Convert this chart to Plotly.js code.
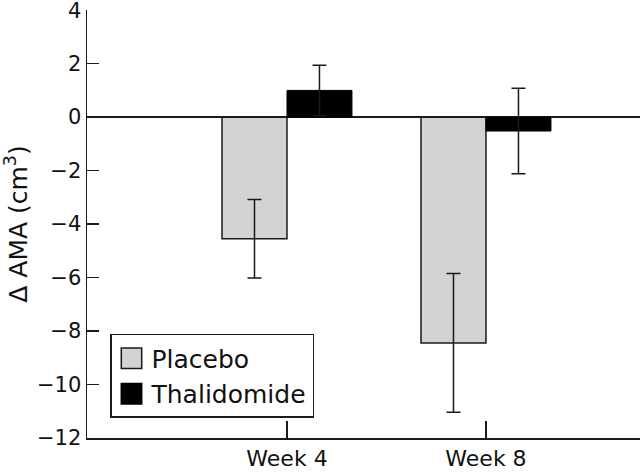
<!DOCTYPE html>
<html>
<head>
<meta charset="utf-8">
<script src="https://cdn.plot.ly/plotly-3.0.1.min.js"></script>
<style>html,body{margin:0;padding:0;background:#fff;}#chart{width:640px;height:472px;}</style>
</head>
<body>
<div id="chart"></div>
<script>
var categories = ["Week 4", "Week 8"];
var placeboValues = [-4.55, -8.45];
var placeboErrors = [1.47, 2.6];
var thalidomideValues = [1.0, -0.52];
var thalidomideErrors = [0.94, 1.6];
var yTickValues = [-12, -10, -8, -6, -4, -2, 0, 2, 4];
var yTickLabels = ["\u221212", "\u221210", "\u22128", "\u22126", "\u22124", "\u22122", "0", "2", "4"];

var ink = "#1a1a1a";
var font = "DejaVu Sans";

var traces = [
  {
    type: "bar", name: "Placebo", x: categories, y: placeboValues,
    marker: {color: "#d3d3d3", line: {color: ink, width: 1.5}},
    error_y: {type: "data", array: placeboErrors, visible: true, color: ink, thickness: 1.5, width: 7}
  },
  {
    type: "bar", name: "Thalidomide", x: categories, y: thalidomideValues,
    marker: {color: "#000000", line: {color: "#000000", width: 1}},
    error_y: {type: "data", array: thalidomideErrors, visible: true, color: ink, thickness: 1.5, width: 7}
  }
];

var layout = {
  width: 640, height: 472,
  margin: {l: 87, r: 0, t: 10, b: 34, autoexpand: false},
  paper_bgcolor: "#fff", plot_bgcolor: "#fff",
  font: {family: font, color: "#111", size: 21},
  barmode: "group", bargap: 0.347, bargroupgap: 0,
  showlegend: true,
  legend: {
    x: 0.0416, y: 0.243, xanchor: "left", yanchor: "top",
    bordercolor: ink, borderwidth: 1.5, bgcolor: "#fff",
    font: {family: font, size: 25, color: "#111"},
    tracegroupgap: 0, itemwidth: 30
  },
  xaxis: {
    type: "category", range: [-1.005, 1.774],
    showline: true, linecolor: ink, linewidth: 1.5,
    ticks: "inside", ticklen: 17, tickwidth: 1.5, tickcolor: ink,
    showgrid: false, zeroline: false,
    tickfont: {family: font, size: 22, color: "#111"}
  },
  yaxis: {
    range: [-12.01, 4.01], tickmode: "array", tickvals: yTickValues, ticktext: yTickLabels,
    showline: true, linecolor: ink, linewidth: 1.5,
    ticks: "inside", ticklen: 12, tickwidth: 1.5, tickcolor: ink,
    showgrid: false, zeroline: true, zerolinecolor: ink, zerolinewidth: 1.5,
    automargin: false, ticklabeloverflow: "allow",
    tickfont: {family: font, size: 21, color: "#111"},
    title: {text: "\u0394 AMA (cm<sup>3</sup>)", font: {family: font, size: 25, color: "#111"}, standoff: 6}
  }
};

Plotly.newPlot("chart", traces, layout, {displayModeBar: false, staticPlot: true}).then(function () {
  var pts = document.querySelectorAll(".legend .legendpoints path");
  pts.forEach(function (p) {
    var t = p.getAttribute("transform") || "";
    p.setAttribute("transform", t + " scale(1.7)");
    p.style.strokeWidth = "0.9px";
  });
});
</script>
</body>
</html>
